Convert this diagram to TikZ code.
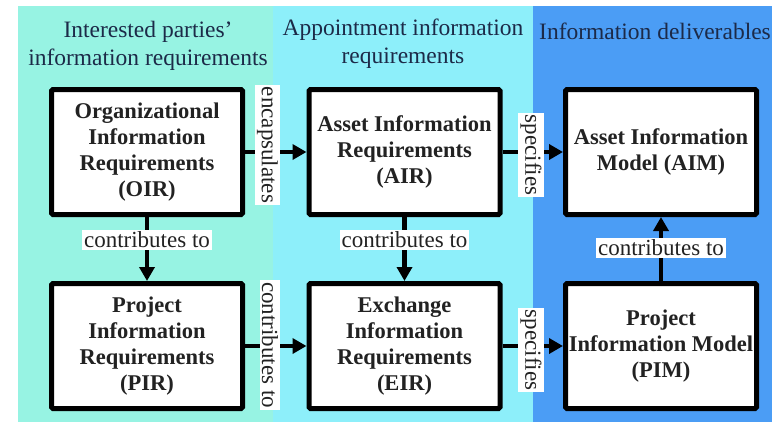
\documentclass[tikz,border=0pt]{standalone}
\usepackage{fontspec}
\setmainfont{Liberation Serif}
\usetikzlibrary{arrows.meta}
\definecolor{panelA}{HTML}{97F3E3}
\definecolor{panelB}{HTML}{8DEFFA}
\definecolor{panelC}{HTML}{4B9DF5}
\definecolor{titlecol}{HTML}{1C2A48}
\definecolor{inkcol}{HTML}{222222}
\begin{document}
\begin{tikzpicture}[x=1pt,y=-1pt,
  box/.style={draw=black, line width=5pt, fill=white, rounded corners=1.5pt,
    minimum width=191pt, minimum height=125pt, inner sep=0pt, align=center,
    font=\fontsize{22.5}{26}\selectfont\bfseries, text=inkcol},
  arr/.style={line width=4.5pt, -{Triangle[length=14pt,width=15pt]}},
  lab/.style={fill=white, inner sep=2pt, font=\fontsize{23}{26}\selectfont, text=inkcol},
  vlab/.style={lab, rotate=-90},
  ttl/.style={align=center, font=\fontsize{23.5}{28}\selectfont, text=titlecol}]
\useasboundingbox (0,0) rectangle (772,423);
\fill[white] (0,0) rectangle (772,423);
\fill[panelA] (18,6) rectangle (273,422);
\fill[panelB] (273,6) rectangle (533,422);
\fill[panelC] (533,6) rectangle (772,422);

\node[ttl] (t1) at (148,46) {Interested parties\symbol{39}\\information requirements};
\node[ttl] (t2) at (403,44) {Appointment information\\requirements};
\node[ttl] (t3) at (655,31) {Information deliverables};

\node[box] (OIR) at (147,152) {Organizational\\Information\\Requirements\\(OIR)};
\node[box] (AIR) at (404.5,152) {Asset Information\\Requirements\\(AIR)};
\node[box] (AIM) at (661,152) {Asset Information\\Model (AIM)};
\node[box] (PIR) at (147,346) {Project\\Information\\Requirements\\(PIR)};
\node[box] (EIR) at (404.5,346) {Exchange\\Information\\Requirements\\(EIR)};
\node[box] (PIM) at (661,346) {Project\\Information Model\\(PIM)};

\draw[arr] (OIR) -- (AIR);
\draw[arr] (AIR) -- (AIM);
\draw[arr] (PIR) -- (EIR);
\draw[arr] (EIR) -- (PIM);
\draw[arr] (OIR) -- (PIR);
\draw[arr] (AIR) -- (EIR);
\draw[arr] (PIM) -- (AIM);

\node[vlab] (l1) at (267.5,145) {encapsulates};
\node[vlab] (l2) at (531,155) {specifies};
\node[vlab] (l3) at (270,345) {contributes to};
\node[vlab] (l4) at (531,350) {specifies};
\node[lab] (l5) at (147,240) {contributes to};
\node[lab] (l6) at (404.5,240) {contributes to};
\node[lab] (l7) at (661,248) {contributes to};
\end{tikzpicture}
\end{document}
